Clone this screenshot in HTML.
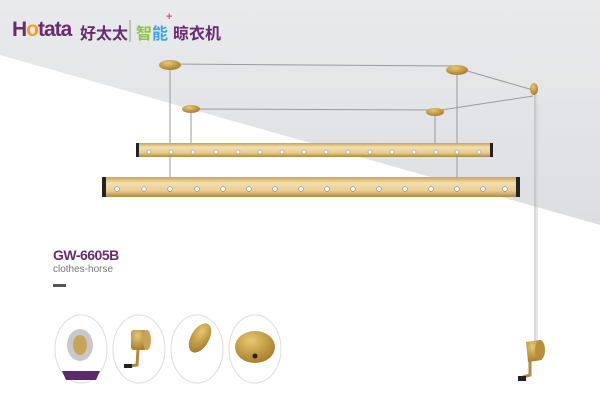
<!DOCTYPE html>
<html><head><meta charset="utf-8"><style>
body{margin:0;width:600px;height:400px;overflow:hidden;background:#fff;position:relative;font-family:"Liberation Sans","Noto Sans CJK SC",sans-serif}
.t{position:absolute;white-space:nowrap}
</style></head><body>
<svg width="600" height="400" style="position:absolute;left:0;top:0">
<defs>
<linearGradient id="bar" x1="0" y1="0" x2="0" y2="1"><stop offset="0" stop-color="#c9a35a"/><stop offset=".3" stop-color="#f3dfb0"/><stop offset=".7" stop-color="#e8cc90"/><stop offset="1" stop-color="#b08840"/></linearGradient>
<radialGradient id="gold" cx=".4" cy=".3" r=".7"><stop offset="0" stop-color="#e8c770"/><stop offset="1" stop-color="#a97e2a"/></radialGradient>
<linearGradient id="bg" x1="0" y1="0" x2="0" y2="1"><stop offset="0" stop-color="#e9eaec"/><stop offset="1" stop-color="#dcdee2"/></linearGradient>
</defs>
<polygon points="0,0 600,0 600,225 0,55" fill="url(#bg)"/>
<g stroke="#9a9a9a" stroke-width="1" fill="none">
<line x1="170" y1="64" x2="457" y2="66"/>
<line x1="191" y1="109" x2="435" y2="110"/>
<line x1="457" y1="68" x2="533" y2="90"/>
<line x1="435" y1="111" x2="533" y2="96"/>
<line x1="170" y1="70" x2="170" y2="182"/>
<line x1="191" y1="112" x2="191" y2="145"/>
<line x1="435" y1="113" x2="435" y2="145"/>
<line x1="457" y1="72" x2="457" y2="180"/>
<line x1="535" y1="95" x2="535" y2="342" stroke="#b0b0b0"/>
<line x1="537" y1="95" x2="537" y2="342" stroke="#cfcfcf"/>
</g>
<ellipse cx="170" cy="65" rx="11" ry="5" fill="url(#gold)"/>
<ellipse cx="457" cy="70" rx="11" ry="5" fill="url(#gold)"/>
<ellipse cx="191" cy="109" rx="9" ry="4" fill="url(#gold)"/>
<ellipse cx="435" cy="112" rx="9" ry="4" fill="url(#gold)"/>
<ellipse cx="534" cy="89" rx="4" ry="6" fill="url(#gold)"/>
<rect x="137" y="143" width="355" height="14" fill="url(#bar)"/>
<rect x="136" y="143" width="3" height="14" fill="#222"/><rect x="490" y="143" width="3" height="14" fill="#222"/>
<rect x="103" y="177" width="416" height="20" fill="url(#bar)"/>
<rect x="102" y="177" width="4" height="20" fill="#222"/><rect x="516" y="177" width="4" height="20" fill="#222"/>
<g fill="#fff" stroke="#888" stroke-width=".6">
<circle cx="149" cy="152" r="2"/><circle cx="171" cy="152" r="2"/><circle cx="193" cy="152" r="2"/><circle cx="216" cy="152" r="2"/><circle cx="238" cy="152" r="2"/><circle cx="260" cy="152" r="2"/><circle cx="282" cy="152" r="2"/><circle cx="304" cy="152" r="2"/><circle cx="326" cy="152" r="2"/><circle cx="348" cy="152" r="2"/><circle cx="370" cy="152" r="2"/><circle cx="392" cy="152" r="2"/><circle cx="414" cy="152" r="2"/><circle cx="436" cy="152" r="2"/><circle cx="457" cy="152" r="2"/><circle cx="479" cy="152" r="2"/>
<circle cx="117" cy="189" r="2.3"/><circle cx="144" cy="189" r="2.3"/><circle cx="170" cy="189" r="2.3"/><circle cx="197" cy="189" r="2.3"/><circle cx="223" cy="189" r="2.3"/><circle cx="249" cy="189" r="2.3"/><circle cx="275" cy="189" r="2.3"/><circle cx="301" cy="189" r="2.3"/><circle cx="327" cy="189" r="2.3"/><circle cx="353" cy="189" r="2.3"/><circle cx="379" cy="189" r="2.3"/><circle cx="405" cy="189" r="2.3"/><circle cx="431" cy="189" r="2.3"/><circle cx="457" cy="189" r="2.3"/><circle cx="483" cy="189" r="2.3"/><circle cx="505" cy="189" r="2.3"/>
</g>
<path d="M526 342 L540 340 L542 360 L528 362 Z" fill="url(#gold)"/>
<ellipse cx="540" cy="350" rx="5" ry="10" fill="#b88f3c"/>
<path d="M530 360 L530 375 L523 377" stroke="#b08840" stroke-width="3" fill="none"/>
<rect x="518" y="376" width="8" height="5" fill="#222"/>
<g fill="#fff" stroke="#ddd" stroke-width="1">
<ellipse cx="81" cy="349" rx="26" ry="34"/><ellipse cx="139" cy="349" rx="26" ry="34"/><ellipse cx="197" cy="349" rx="26" ry="34"/><ellipse cx="255" cy="349" rx="26" ry="34"/>
</g>
<ellipse cx="80" cy="345" rx="13" ry="16" fill="#c8c8c8"/><ellipse cx="80" cy="345" rx="7" ry="10" fill="#c9a35a"/>
<path d="M62 371 H100 L96 380 H66 Z" fill="#5b2a6b"/>
<rect x="131" y="330" width="16" height="20" rx="3" fill="url(#gold)"/><ellipse cx="147" cy="340" rx="4" ry="10" fill="#c9a35a"/>
<path d="M138 350 L137 365 L130 366" stroke="#b08840" stroke-width="3" fill="none"/><rect x="124" y="364" width="8" height="4" fill="#222"/>
<ellipse cx="200" cy="338" rx="9" ry="16" transform="rotate(30 200 338)" fill="url(#gold)"/>
<ellipse cx="255" cy="347" rx="20" ry="16" fill="url(#gold)"/><circle cx="255" cy="356" r="2.5" fill="#222"/>
<rect x="53" y="284" width="13" height="3" fill="#555"/>
<line x1="130" y1="20" x2="130" y2="42" stroke="#999"/>
</svg>
<div class="t" style="left:12px;top:18px;font-size:21px;font-weight:bold;color:#6a2a72;letter-spacing:-1px">H<span style="color:#f0a020">o</span>tata</div>
<div class="t" style="left:80px;top:20px;font-size:16px;font-weight:bold;color:#6a2a72">好太太</div>
<div class="t" style="left:136px;top:20px;font-size:16px;font-weight:bold"><span style="color:#8cc63f">智</span><span style="color:#3aa8d8">能</span></div>
<div class="t" style="left:166px;top:11px;font-size:11px;font-weight:bold;color:#e94f8a">+</div>
<div class="t" style="left:173px;top:20px;font-size:16px;font-weight:bold;color:#6a2a72">晾衣机</div>
<div class="t" style="left:53px;top:247px;font-size:14px;font-weight:bold;color:#6a2a72;letter-spacing:-.5px">GW-6605B</div>
<div class="t" style="left:53px;top:264px;font-size:10px;color:#777">clothes-horse</div>
</body></html>
